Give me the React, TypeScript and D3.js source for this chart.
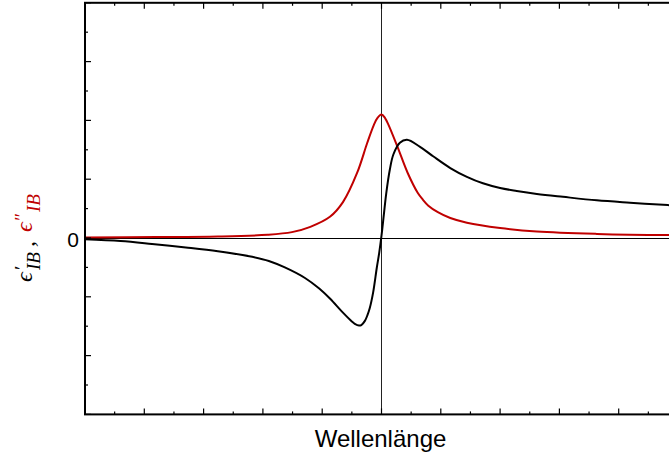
import React, { useEffect, useRef } from 'react';
import * as d3 from 'd3';

// wavelength in arbitrary units (resonance at 5)
const lambdaReal = [0, 0.6, 1.13, 1.7, 2.24, 2.82, 3.1, 3.37, 3.71, 3.95, 4.13, 4.35, 4.5, 4.55, 4.62, 4.66, 4.72, 4.76, 4.8, 4.86, 4.92, 4.96, 5.0, 5.04, 5.08, 5.14, 5.2, 5.31, 5.43, 5.65, 5.87, 6.16, 6.44, 6.71, 7.0, 7.28, 7.62, 8.06, 8.63, 9.19, 9.83, 10];
const epsReal = [-0.02, -0.05, -0.1, -0.16, -0.225, -0.32, -0.39, -0.5, -0.68, -0.86, -1.03, -1.27, -1.42, -1.46, -1.49, -1.48, -1.41, -1.32, -1.2, -0.92, -0.51, -0.26, 0.04, 0.4, 0.76, 1.16, 1.42, 1.62, 1.67, 1.55, 1.39, 1.19, 1.04, 0.93, 0.85, 0.8, 0.75, 0.7, 0.64, 0.6, 0.56, 0.55];

const lambdaImag = [0, 1.2, 2.24, 3.08, 3.49, 3.8, 4.13, 4.35, 4.59, 4.76, 4.87, 4.93, 5.0, 5.06, 5.12, 5.27, 5.44, 5.61, 5.7, 5.79, 5.95, 6.16, 6.44, 7.0, 7.62, 8.63, 9.83, 10];
const epsImag = [0.01, 0.016, 0.026, 0.055, 0.1, 0.19, 0.36, 0.61, 1.11, 1.62, 1.92, 2.04, 2.1, 2.04, 1.92, 1.55, 1.11, 0.77, 0.65, 0.55, 0.44, 0.34, 0.26, 0.17, 0.11, 0.07, 0.05, 0.05];

const yTickValues = [0];
const yTickLabels = ['0'];
const xLabel = 'Wellenlänge';
const resonance = 5;

const RED = '#c00000';

export default function App() {
    const ref = useRef<SVGSVGElement>(null);

    useEffect(() => {
        const svg = d3.select(ref.current);
        svg.selectAll('*').remove();

        // plot box (right edge falls just outside the picture)
        const left = 85, right = 678, top = 2.8, bottom = 414.4;

        const x = d3.scaleLinear().domain([0, 10]).range([left, right]);
        const y = d3.scaleLinear().domain([-3, 4]).range([bottom, top]);

        // reference lines
        svg.append('line')
            .attr('x1', left).attr('x2', right)
            .attr('y1', y(0) + 0.5).attr('y2', y(0) + 0.5)
            .attr('stroke', '#000').attr('stroke-width', 1)
            .attr('shape-rendering', 'crispEdges');
        svg.append('line')
            .attr('x1', x(resonance)).attr('x2', x(resonance))
            .attr('y1', top).attr('y2', bottom)
            .attr('stroke', '#222').attr('stroke-width', 1)
            .attr('shape-rendering', 'crispEdges');

        const line = d3.line<[number, number]>()
            .x(d => x(d[0]))
            .y(d => y(d[1]))
            .curve(d3.curveCatmullRom.alpha(0.5));

        // eps'' (red)
        svg.append('path')
            .datum(lambdaImag.map((l, i) => [l, epsImag[i]] as [number, number]))
            .attr('d', line)
            .attr('fill', 'none')
            .attr('stroke', RED)
            .attr('stroke-width', 2);

        // eps' (black)
        svg.append('path')
            .datum(lambdaReal.map((l, i) => [l, epsReal[i]] as [number, number]))
            .attr('d', line)
            .attr('fill', 'none')
            .attr('stroke', '#000')
            .attr('stroke-width', 2);

        // ticks, pointing inwards
        const ticks = svg.append('g').attr('stroke', '#000').attr('stroke-width', 1.2);
        const xMajor = d3.range(0, 10.01, 1);
        const xMinor = d3.range(0.5, 10, 1);
        const yMajor = d3.range(-3, 4.01, 1);
        const yMinor = d3.range(-2.5, 4, 1);
        const addX = (vals: number[], len: number) => {
            vals.forEach(v => {
                ticks.append('line').attr('x1', x(v)).attr('x2', x(v)).attr('y1', bottom).attr('y2', bottom - len);
                ticks.append('line').attr('x1', x(v)).attr('x2', x(v)).attr('y1', top).attr('y2', top + len);
            });
        };
        const addY = (vals: number[], len: number) => {
            vals.forEach(v => {
                ticks.append('line').attr('x1', left).attr('x2', left + len).attr('y1', y(v)).attr('y2', y(v));
                ticks.append('line').attr('x1', right).attr('x2', right - len).attr('y1', y(v)).attr('y2', y(v));
            });
        };
        addX(xMajor, 6);
        addX(xMinor, 3);
        addY(yMajor, 6);
        addY(yMinor, 3);

        // frame
        svg.append('rect')
            .attr('x', left).attr('y', top)
            .attr('width', right - left).attr('height', bottom - top)
            .attr('fill', 'none')
            .attr('stroke', '#000')
            .attr('stroke-width', 2);

        // y tick labels
        svg.selectAll('.ylab')
            .data(yTickValues)
            .enter()
            .append('text')
            .attr('class', 'ylab')
            .attr('x', left - 6)
            .attr('y', d => y(d) + 8.5)
            .attr('text-anchor', 'end')
            .attr('font-family', 'Liberation Sans, Arial, sans-serif')
            .attr('font-size', 21)
            .text((d, i) => yTickLabels[i]);

        // x label
        svg.append('text')
            .attr('x', x(resonance) - 1)
            .attr('y', 447)
            .attr('text-anchor', 'middle')
            .attr('font-family', 'Liberation Sans, Arial, sans-serif')
            .attr('font-size', 24)
            .text(xLabel);

        // y label: eps'_IB, eps''_IB (rotated)
        const yl = svg.append('g')
            .attr('transform', 'translate(31.5, 282) rotate(-90)')
            .attr('font-family', 'Liberation Serif, DejaVu Serif, serif')
            .attr('font-style', 'italic');
        const piece = (txt: string, px: number, py: number, size: number, color: string) => {
            yl.append('text')
                .attr('x', px).attr('y', py)
                .attr('font-size', size)
                .attr('fill', color)
                .text(txt);
        };
        piece('\u03F5', 0, 0, 24, '#000');
        piece('\u2032', 11, -4, 19, '#000');
        piece('IB', 12, 8, 19, '#000');
        piece(',', 35, 2, 24, '#000');
        piece('\u03F5', 50, 0, 24, RED);
        piece('\u2033', 60, -4, 19, RED);
        piece('IB', 70, 8, 19, RED);
    }, []);

    return (
        <svg
            ref={ref}
            width={669}
            height={459}
            style={{ position: 'absolute', left: 0, top: 0, background: '#fff' }}
        />
    );
}
